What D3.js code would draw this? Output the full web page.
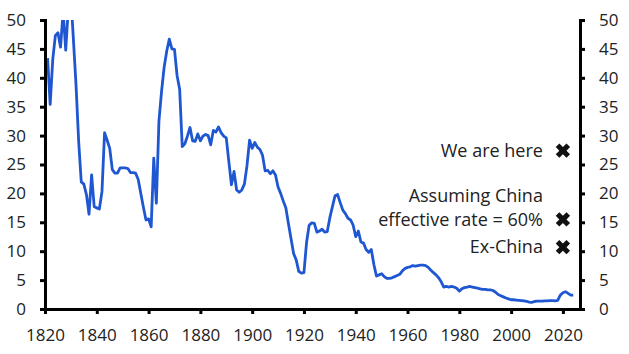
<!DOCTYPE html>
<html lang="en">
<head>
<meta charset="UTF-8">
<title>US average tariff rate</title>
<script src="https://d3js.org/d3.v7.min.js"></script>
<style>
  * { margin: 0; padding: 0; box-sizing: border-box; }
  body { background: #fff; font-family: "Open Sans", sans-serif; }
  .axis path, .axis line { stroke: #000; stroke-width: 3; }
  .axis text { font-size: 17px; fill: #222; font-family: "Open Sans", sans-serif; }
  .note { font-size: 18px; fill: #222; text-anchor: end; }
</style>
</head>
<body>
<svg id="chart" width="629" height="354"></svg>
<script>
  // average tariff rate (%), one value per year from 1821
  const firstYear = 1821;
  const tariff = [
    43.4, 35.4, 43.2, 47.3, 47.8, 45.3, 51.5, 44.8, 52.0,            // 1821-1829
    54.0, 46.4, 38.6, 29.0, 22.0, 21.6, 19.8, 16.4, 23.2, 17.7,      // 1830-1839
    17.5, 17.3, 20.3, 30.5, 29.2, 27.8, 24.1, 23.5, 23.5, 24.4,      // 1840-1849
    24.4, 24.4, 24.3, 23.6, 23.6, 23.5, 22.4, 20.0, 17.6, 15.4,      // 1850-1859
    15.6, 14.2, 26.1, 18.3, 32.5, 37.6, 41.8, 44.6, 46.7, 45.0,      // 1860-1869
    44.9, 40.4, 38.0, 28.1, 28.6, 29.9, 31.4, 29.1, 29.0, 30.3,      // 1870-1879
    29.1, 29.9, 30.2, 30.0, 28.4, 30.9, 30.6, 31.5, 30.5, 29.9,      // 1880-1889
    29.6, 25.5, 21.5, 23.8, 20.6, 20.2, 20.6, 21.6, 24.8, 29.2,      // 1890-1899
    27.8, 28.8, 28.0, 27.6, 26.6, 23.9, 24.0, 23.4, 23.9, 23.2,      // 1900-1909
    21.1, 20.0, 18.7, 17.5, 14.8, 12.2, 9.6, 8.5, 6.5, 6.2,          // 1910-1919
    6.3, 11.5, 14.5, 14.9, 14.8, 13.3, 13.5, 13.8, 13.3, 13.4,      // 1920-1929
    15.8, 17.7, 19.6, 19.8, 18.4, 17.1, 16.5, 15.7, 15.4, 14.5,      // 1930-1939
    12.5, 13.5, 11.6, 11.4, 10.3, 9.8, 10.3, 7.7, 5.7, 5.9,          // 1940-1949
    6.1, 5.6, 5.3, 5.3, 5.4, 5.6, 5.8, 6.0, 6.6, 7.0,                // 1950-1959
    7.2, 7.3, 7.5, 7.4, 7.5, 7.6, 7.6, 7.5, 7.2, 6.7,                // 1960-1969
    6.3, 5.9, 5.4, 4.7, 3.8, 3.9, 3.8, 3.9, 3.8, 3.6,                // 1970-1979
    3.1, 3.5, 3.7, 3.8, 3.9, 3.8, 3.7, 3.6, 3.5, 3.4,                // 1980-1989
    3.4, 3.3, 3.3, 3.2, 2.9, 2.5, 2.3, 2.1, 1.9, 1.75,               // 1990-1999
    1.6, 1.6, 1.55, 1.5, 1.45, 1.4, 1.3, 1.2, 1.15, 1.3,             // 2000-2009
    1.35, 1.35, 1.35, 1.4, 1.4, 1.45, 1.45, 1.4, 1.5, 2.4,           // 2010-2019
    2.8, 3.0, 2.7, 2.4, 2.4                                          // 2020-2024
  ];
  const series = tariff.map((v, i) => ({ year: firstYear + i, value: v }));

  const xTicks = [1820, 1840, 1860, 1880, 1900, 1920, 1940, 1960, 1980, 2000, 2020];
  const yTicks = [0, 5, 10, 15, 20, 25, 30, 35, 40, 45, 50];

  // scenario markers
  const markerYear = 2020;
  const markerValues = [27.4, 15.5, 10.7];
  const noteLines = [
    { text: "We are here", value: 27.4 },
    { text: "Assuming China", value: 19.6 },
    { text: "effective rate = 60%", value: 15.5 },
    { text: "Ex-China", value: 10.7 }
  ];

  const margin = { left: 45, right: 580, top: 20, bottom: 309 };
  const svg = d3.select("#chart");

  const x = d3.scaleLinear().domain([1820, 2026.6]).range([margin.left, margin.right]);
  const y = d3.scaleLinear().domain([0, 50]).range([margin.bottom, margin.top]);

  svg.append("defs").append("clipPath").attr("id", "plot-clip")
    .append("rect")
    .attr("x", margin.left).attr("y", margin.top)
    .attr("width", margin.right - margin.left).attr("height", margin.bottom - margin.top);

  svg.append("path")
    .datum(series)
    .attr("clip-path", "url(#plot-clip)")
    .attr("fill", "none")
    .attr("stroke", "#1f57d2")
    .attr("stroke-width", 2.8)
    .attr("stroke-linejoin", "round")
    .attr("d", d3.line().x(d => x(d.year)).y(d => y(d.value)));

  svg.append("g")
    .attr("class", "axis")
    .attr("transform", `translate(${margin.left},0)`)
    .call(d3.axisLeft(y).tickValues(yTicks).tickSize(5).tickPadding(14).tickSizeOuter(0));

  svg.append("g")
    .attr("class", "axis")
    .attr("transform", `translate(${margin.right},0)`)
    .call(d3.axisRight(y).tickValues(yTicks).tickSize(5).tickPadding(14).tickSizeOuter(0));

  svg.append("g")
    .attr("class", "axis")
    .attr("transform", `translate(0,${margin.bottom})`)
    .call(d3.axisBottom(x).tickValues(xTicks).tickFormat(d3.format("d"))
      .tickSize(5).tickPadding(15).tickSizeOuter(0));

  svg.selectAll("path.domain").attr("stroke-linecap", "square");

  const cross = d3.symbol().type(d3.symbolCross).size(128);
  svg.selectAll(".marker")
    .data(markerValues)
    .join("path")
    .attr("class", "marker")
    .attr("fill", "#111")
    .attr("transform", d => `translate(${x(markerYear)},${y(d)}) rotate(45)`)
    .attr("d", cross);

  svg.selectAll(".note")
    .data(noteLines)
    .join("text")
    .attr("class", "note")
    .attr("x", x(markerYear) - 20)
    .attr("y", d => y(d.value))
    .attr("dy", "0.35em")
    .text(d => d.text);
</script>
</body>
</html>
